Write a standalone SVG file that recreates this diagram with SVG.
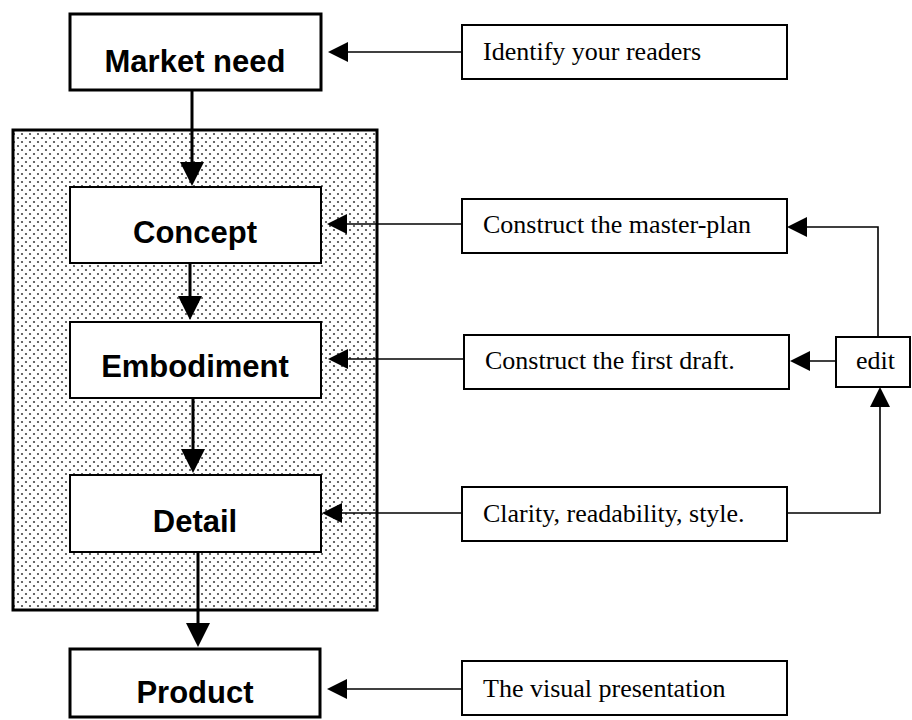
<svg xmlns="http://www.w3.org/2000/svg" width="912" height="720" viewBox="0 0 912 720">
<style>
.bold{font-family:"Liberation Sans",Arial,sans-serif;font-weight:bold;font-size:31px;fill:#000;text-anchor:middle}
.serif{font-family:"Liberation Serif","Times New Roman",serif;font-size:26px;fill:#000}
.thick{fill:#fff;stroke:#000;stroke-width:3}
.inner{fill:#fff;stroke:#000;stroke-width:2}
.side{fill:#fff;stroke:#000;stroke-width:2}
.vline{fill:none;stroke:#000;stroke-width:3;marker-end:url(#big)}
.hline{fill:none;stroke:#000;stroke-width:1.6;marker-end:url(#small)}
</style>
<defs>
<pattern id="dots" width="8" height="8" patternUnits="userSpaceOnUse">
<rect width="8" height="8" fill="#fff"/>
<circle cx="2" cy="2" r="1.1" fill="#444"/>
<circle cx="6" cy="6" r="1.1" fill="#444"/>
</pattern>
<marker id="big" viewBox="0 0 24 24" refX="20" refY="12" markerWidth="24" markerHeight="24" markerUnits="userSpaceOnUse" orient="auto">
<path d="M0,0 L24,12 L0,24 z" fill="#000"/>
</marker>
<marker id="small" viewBox="0 0 20 20" refX="17" refY="10" markerWidth="20" markerHeight="20" markerUnits="userSpaceOnUse" orient="auto">
<path d="M0,0 L20,10 L0,20 z" fill="#000"/>
</marker>
</defs>

<g id="container">
<rect x="13" y="130" width="364" height="480" fill="url(#dots)" stroke="#000" stroke-width="3"/>
</g>

<g id="market-need">
<rect class="thick" x="70" y="14" width="251" height="76"/>
<text class="bold" x="195" y="72">Market need</text>
</g>
<g id="concept">
<rect class="inner" x="70" y="187" width="251" height="76"/>
<text class="bold" x="195" y="243">Concept</text>
</g>
<g id="embodiment">
<rect class="inner" x="70" y="322" width="251" height="76"/>
<text class="bold" x="195" y="377">Embodiment</text>
</g>
<g id="detail">
<rect class="inner" x="70" y="475" width="251" height="77"/>
<text class="bold" x="195" y="532">Detail</text>
</g>
<g id="product">
<rect class="thick" x="70" y="649" width="250" height="68"/>
<text class="bold" x="195" y="703">Product</text>
</g>

<g id="identify">
<rect class="side" x="462" y="25" width="325" height="54"/>
<text class="serif" x="483" y="60">Identify your readers</text>
</g>
<g id="master-plan">
<rect class="side" x="462" y="199" width="325" height="54"/>
<text class="serif" x="483" y="233">Construct the master-plan</text>
</g>
<g id="first-draft">
<rect class="side" x="464" y="335" width="325" height="54"/>
<text class="serif" x="485" y="369">Construct the first draft.</text>
</g>
<g id="clarity">
<rect class="side" x="462" y="487" width="325" height="54"/>
<text class="serif" x="483" y="522">Clarity, readability, style.</text>
</g>
<g id="visual">
<rect class="side" x="462" y="661" width="325" height="54"/>
<text class="serif" x="483" y="697">The visual presentation</text>
</g>
<g id="edit">
<rect class="side" x="836" y="337" width="74" height="50"/>
<text class="serif" x="856" y="369">edit</text>
</g>

<g id="connectors">
<path class="vline" d="M192,91 V182"/>
<path class="vline" d="M190,263 V316"/>
<path class="vline" d="M193,398 V469"/>
<path class="vline" d="M198,552 V643"/>
<path class="hline" d="M462,52 H331"/>
<path class="hline" d="M462,224 H330"/>
<path class="hline" d="M464,359 H331"/>
<path class="hline" d="M462,513 H325"/>
<path class="hline" d="M462,689 H330"/>
<path class="hline" d="M836,361 H793"/>
<path class="hline" d="M878,337 V227 H790"/>
<path class="hline" d="M787,513 H880 V390"/>
</g>
</svg>
